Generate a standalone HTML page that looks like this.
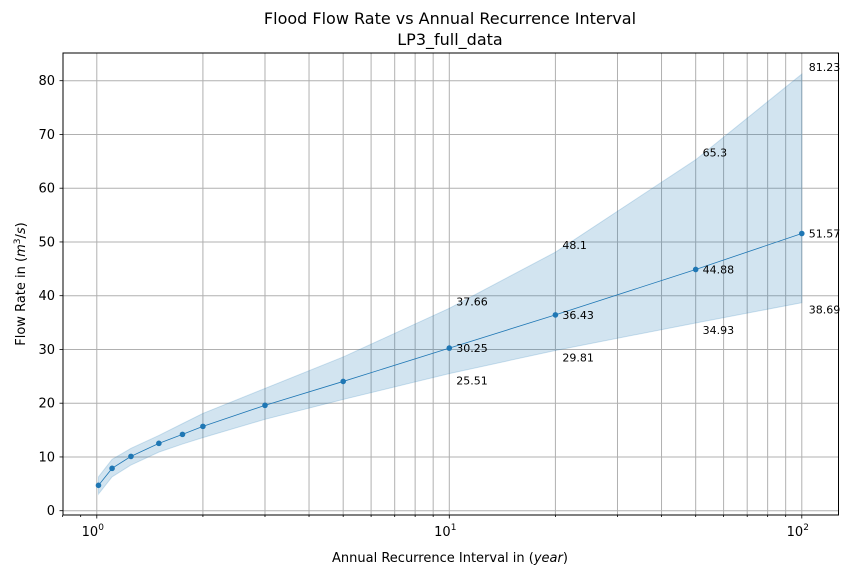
<!DOCTYPE html>
<html><head><meta charset="utf-8"><style>
body{margin:0;background:#fff;}
svg text{font-family:"DejaVu Sans","Liberation Sans",sans-serif;}
</style></head><body>
<svg id="chart" width="851" height="577" xmlns="http://www.w3.org/2000/svg">
<rect width="851" height="577" fill="#fff"/>
<g id="grid"></g>
<path id="band" fill="#1f77b4" fill-opacity="0.2" stroke="#1f77b4" stroke-opacity="0.2"/>
<path id="line" fill="none" stroke="#1f77b4" stroke-width="0.8"/>
<g id="pts"></g>
<g id="labels" font-size="11"></g>
<rect x="63" y="53" width="775.5" height="462" fill="none" stroke="#000" stroke-width="1"/>
<g id="ticks" font-size="13"></g>
<text x="450" y="24" text-anchor="middle" font-size="16">Flood Flow Rate vs Annual Recurrence Interval</text>
<text x="450" y="45" text-anchor="middle" font-size="16">LP3_full_data</text>
<text x="450" y="562" text-anchor="middle" font-size="13">Annual Recurrence Interval in (<tspan font-style="italic">year</tspan>)</text>
<text transform="translate(25,284) rotate(-90)" text-anchor="middle" font-size="13">Flow Rate in (<tspan font-style="italic">m</tspan><tspan font-size="9" dy="-5">3</tspan><tspan dy="5">/</tspan><tspan font-style="italic">s</tspan>)</text>
</svg>
<script>
const intervals=[1.011,1.105,1.25,1.5,1.75,2,3,5,10,20,50,100];
const flows=[4.72,7.88,10.1,12.53,14.2,15.69,19.6,24.05,30.25,36.43,44.88,51.57];
const upper=[6.3,9.55,11.6,14.0,16.2,18.1,22.75,28.6,37.66,48.1,65.3,81.23];
const lower=[3.1,6.3,8.5,10.9,12.4,13.6,17.0,20.7,25.51,29.81,34.93,38.69];
const labelIdx=[8,9,10,11];
const yTicks=[0,10,20,30,40,50,60,70,80];
const xMajor=[1,10,100];
const xMajorLabels=["0","1","2"];
const NS="http://www.w3.org/2000/svg";
const xs=v=>96.8+Math.log10(v)*352.5;
const ys=v=>510.7-v*5.375;
function mk(t,a,p){const e=document.createElementNS(NS,t);for(const k in a)e.setAttribute(k,a[k]);p.appendChild(e);return e;}
const grid=document.getElementById('grid'),ticks=document.getElementById('ticks');
for(let d=0;d<3;d++)for(let m=1;m<10;m++){const v=Math.pow(10,d)*m;if(v>100)continue;
 const g=mk('line',{x1:xs(v),x2:xs(v),y1:53,y2:515,stroke:'#b0b0b0','stroke-width':1},grid);
 
 const t=mk('line',{x1:xs(v),x2:xs(v),y1:515,y2:m==1?518.5:517,stroke:'#000','stroke-width':0.8},ticks);
 }
for(const v of [0.8,0.9]){const t=mk('line',{x1:xs(v),x2:xs(v),y1:515,y2:517,stroke:'#000','stroke-width':0.8},ticks);
 }
xMajor.forEach((v,i)=>{const t=mk('text',{x:xs(v)-4,y:536,'text-anchor':'middle'},ticks);
 
 t.innerHTML='10<tspan font-size="9" dy="-6">'+xMajorLabels[i]+'</tspan>';});
yTicks.forEach(v=>{const g=mk('line',{x1:63,x2:838.5,y1:ys(v),y2:ys(v),stroke:'#b0b0b0','stroke-width':1},grid);
 
 const tk=mk('line',{x1:59.5,x2:63,y1:ys(v),y2:ys(v),stroke:'#000','stroke-width':0.8},ticks);
 
 const t=mk('text',{x:55,y:ys(v)+4.5,'text-anchor':'end'},ticks);t.textContent=v;
 });
let d='';intervals.forEach((v,i)=>d+=(i?'L':'M')+xs(v)+','+ys(upper[i]));
for(let i=intervals.length-1;i>=0;i--)d+='L'+xs(intervals[i])+','+ys(lower[i]);
document.getElementById('band').setAttribute('d',d+'Z');
document.getElementById('line').setAttribute('d',intervals.map((v,i)=>(i?'L':'M')+xs(v)+','+ys(flows[i])).join(''));
const pts=document.getElementById('pts'),lab=document.getElementById('labels');
intervals.forEach((v,i)=>{const c=mk('circle',{cx:xs(v),cy:ys(flows[i]),r:2.8,fill:'#1f77b4'},pts);
 });
labelIdx.forEach(i=>{[[flows[i],4],[upper[i],-3],[lower[i],11]].forEach(([val,off])=>{
 const t=mk('text',{x:xs(intervals[i])+7,y:ys(val)+off},lab);t.textContent=val;
 });});
</script>
</body></html>
